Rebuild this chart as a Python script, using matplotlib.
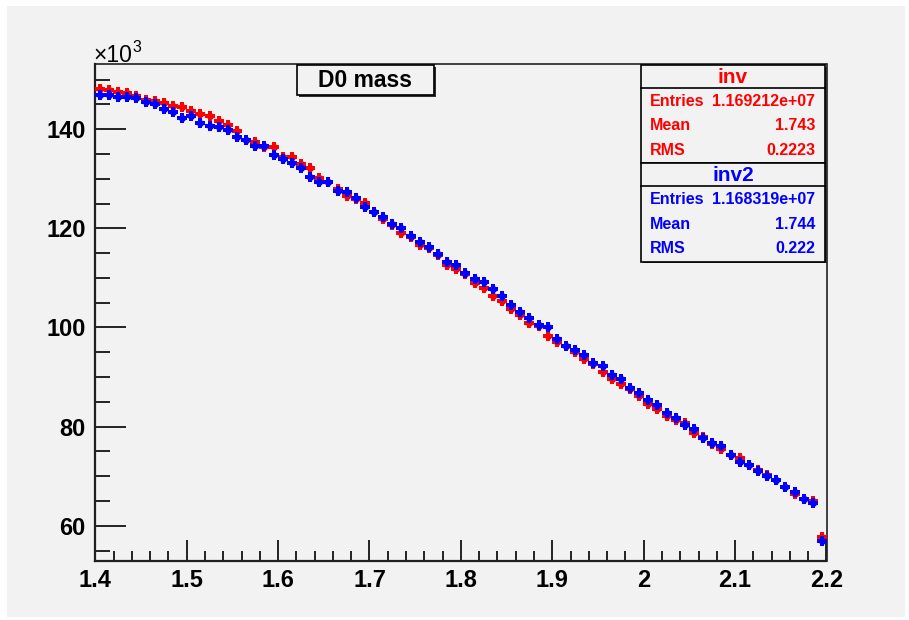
import numpy as np
import matplotlib
matplotlib.use('Agg')
import matplotlib.pyplot as plt
from matplotlib.patches import Rectangle

plt.rcParams['font.family'] = ['Liberation Sans', 'DejaVu Sans']

# histogram binning: 80 bins from 1.4 to 2.2
x_lo, x_hi, n_bins = 1.4, 2.2, 80

# bin contents in units of 10^3
inv = [148.06, 147.86, 147.52, 147.26, 146.65, 145.85, 145.71, 145.18, 144.70, 144.44,
       143.63, 143.02, 142.62, 141.55, 140.81, 139.60, 137.88, 137.44, 136.43, 136.43,
       134.29, 134.35, 132.94, 132.14, 130.06, 129.31, 127.90, 126.49, 125.99, 125.02,
       123.27, 121.96, 120.75, 119.09, 118.17, 116.65, 116.11, 114.64, 112.66, 111.71,
       110.87, 108.99, 107.94, 106.37, 105.28, 103.67, 102.56, 100.99, 100.28, 98.37,
       97.00, 96.25, 95.10, 93.57, 92.62, 90.95, 89.66, 88.65, 87.58, 86.11,
       84.50, 83.51, 82.10, 81.29, 80.67, 78.65, 77.82, 76.59, 75.52, 74.21,
       73.77, 72.22, 71.35, 70.24, 69.17, 67.82, 66.45, 65.48, 64.92, 57.74]
inv2 = [146.92, 146.92, 146.45, 146.45, 146.31, 145.44, 144.98, 144.09, 143.37, 142.22,
        142.62, 141.21, 140.67, 140.40, 139.86, 138.33, 137.78, 136.63, 136.63, 134.76,
        133.95, 133.15, 132.14, 130.26, 129.37, 129.41, 127.56, 127.30, 126.19, 124.33,
        123.33, 122.32, 120.89, 120.14, 118.49, 117.28, 116.17, 114.88, 113.25, 112.68,
        110.91, 109.84, 109.25, 107.70, 106.33, 104.52, 103.16, 101.83, 100.48, 100.02,
        97.66, 96.31, 95.50, 94.44, 92.88, 92.28, 90.40, 89.54, 87.84, 86.77,
        85.44, 84.31, 82.68, 81.65, 80.36, 79.48, 77.80, 76.63, 76.05, 74.27,
        72.92, 72.18, 71.15, 70.08, 69.23, 67.88, 66.77, 65.50, 64.66, 56.90]

stats = [
    ('inv', 'red', [('Entries', '1.169212e+07'), ('Mean', '1.743'), ('RMS', '0.2223')]),
    ('inv2', 'blue', [('Entries', '1.168319e+07'), ('Mean', '1.744'), ('RMS', '0.222')]),
]

W, H = 909, 620
bg = '#f2f2f2'

fig = plt.figure(figsize=(W / 100, H / 100), dpi=100, facecolor='white')
fig.patches.append(Rectangle((7 / W, 1 - 617 / H), 898 / W, 611 / H,
                             transform=fig.transFigure, facecolor=bg,
                             edgecolor='none', zorder=-10))


def fx(px):
    return px / W


def fy(py):
    return 1 - py / H


ax = fig.add_axes([fx(95.3), fy(561), fx(826.5) - fx(95.3), fy(63.7) - fy(561)])
ax.set_facecolor(bg)

width = (x_hi - x_lo) / n_bins
centers = x_lo + width * (np.arange(n_bins) + 0.5)

for vals, col in [(inv, 'red'), (inv2, 'blue')]:
    v = np.array(vals)
    err = np.sqrt(v * 1000) / 1000
    ax.errorbar(centers, v, xerr=width / 2, yerr=err, fmt='none',
                ecolor='black', elinewidth=1.1, zorder=2)
    ax.plot(centers, v, linestyle='none', marker='o', markersize=5,
            color=col, markeredgewidth=0, zorder=3)
    ax.plot(centers, v, linestyle='none', marker='P', markersize=6.5,
            color=col, markeredgewidth=0, zorder=3)

ax.set_xlim(x_lo, x_hi)
ax.set_ylim(52.9, 153.2)

ax.set_xticks(np.arange(1.4, 2.21, 0.1))
ax.set_xticklabels(['1.4', '1.5', '1.6', '1.7', '1.8', '1.9', '2', '2.1', '2.2'])
ax.set_xticks(np.arange(1.4, 2.201, 0.02), minor=True)
ax.set_yticks([60, 80, 100, 120, 140])
ax.set_yticks(np.arange(55, 153, 5), minor=True)

ax.tick_params(axis='x', which='major', direction='in', length=15, width=1.2,
               labelsize=17, pad=6, top=False)
ax.tick_params(axis='x', which='minor', direction='in', length=7.5, width=1.2, top=False)
ax.tick_params(axis='y', which='major', direction='in', length=22, width=1.2,
               labelsize=17, pad=7, right=False)
ax.tick_params(axis='y', which='minor', direction='in', length=11, width=1.2, right=False)
for lab in ax.get_xticklabels() + ax.get_yticklabels():
    lab.set_fontweight('bold')

for side in ['left', 'bottom']:
    ax.spines[side].set_linewidth(1.6)
    ax.spines[side].set_color('#202020')
for side in ['top', 'right']:
    ax.spines[side].set_linewidth(1.2)
    ax.spines[side].set_color('#202020')

# exponent label
fig.text(fx(93), fy(61.5), '\u00d710', fontsize=16.5, ha='left', va='baseline')
fig.text(fx(132), fy(52.5), '3', fontsize=11.5, ha='left', va='baseline')


def box(x0, y0, x1, y1, shadow=2):
    fig.patches.append(Rectangle((fx(x0 + shadow), fy(y1 + shadow)),
                                 fx(x1 - x0), fy(y0) - fy(y1),
                                 transform=fig.transFigure, facecolor='#303030',
                                 edgecolor='none', zorder=5))
    fig.patches.append(Rectangle((fx(x0), fy(y1)), fx(x1 - x0), fy(y0) - fy(y1),
                                 transform=fig.transFigure, facecolor=bg,
                                 edgecolor='black', linewidth=1.2, zorder=6))


# title box
box(297, 65, 434, 95)
fig.text(fx(365.5), fy(80.5), 'D0 mass', fontsize=16.5, fontweight='bold',
         ha='center', va='center', zorder=7)

# stats boxes
tops = [65, 163.3]
for (name, col, rows), top in zip(stats, tops):
    bottom = top + 98.3
    box(641, top, 825, bottom, shadow=1.5)
    sep = top + 22.7
    fig.lines.append(plt.Line2D([fx(641), fx(825)], [fy(sep), fy(sep)],
                                transform=fig.transFigure, color='black',
                                linewidth=1.2, zorder=7))
    fig.text(fx(733), fy(top + 12.5), name, fontsize=15, fontweight='bold',
             color=col, ha='center', va='center', zorder=7)
    for k, (lab, val) in enumerate(rows):
        yy = top + 36.5 + k * 24.4
        fig.text(fx(650), fy(yy), lab, fontsize=11.5, fontweight='bold',
                 color=col, ha='left', va='center', zorder=7)
        fig.text(fx(815), fy(yy), val, fontsize=11.5, fontweight='bold',
                 color=col, ha='right', va='center', zorder=7)

fig.savefig('out.png', dpi=100, facecolor=fig.get_facecolor())
